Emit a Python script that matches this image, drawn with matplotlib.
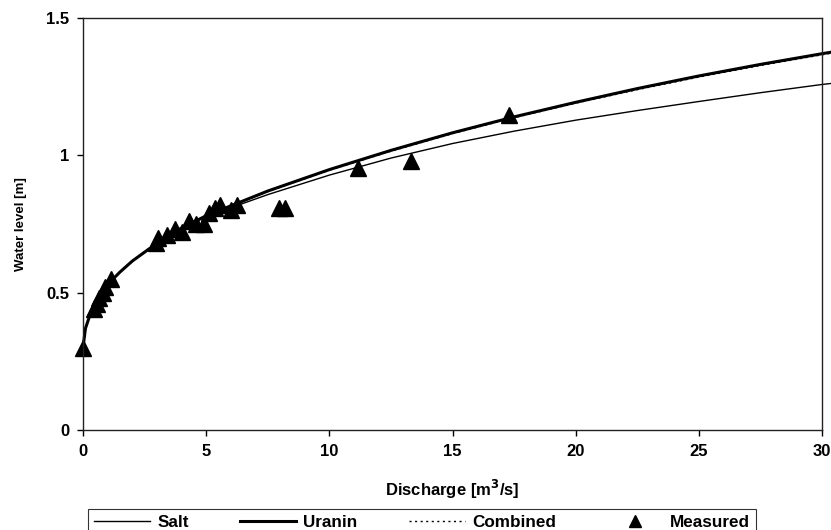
import matplotlib
matplotlib.use("Agg")
import matplotlib.pyplot as plt

plt.rcParams['font.family'] = ['Liberation Sans', 'DejaVu Sans']
plt.rcParams['font.weight'] = 'bold'

# rating curves
q_curve = [0, 0.1, 0.25, 0.5, 1, 1.5, 2, 3, 4, 5, 7.5, 10, 12.5, 15, 17.5, 20, 22.5, 25, 27.5, 30, 30.4]
h_salt = [0.30, 0.37, 0.41, 0.47, 0.53, 0.575, 0.615, 0.68, 0.733, 0.777, 0.857, 0.928, 0.99,
          1.043, 1.088, 1.128, 1.163, 1.196, 1.228, 1.258, 1.262]
h_uranin = [0.30, 0.37, 0.41, 0.47, 0.53, 0.575, 0.615, 0.68, 0.735, 0.78, 0.87, 0.948, 1.018,
            1.082, 1.14, 1.193, 1.243, 1.289, 1.331, 1.37, 1.376]
h_combined = [0.30, 0.37, 0.41, 0.47, 0.53, 0.575, 0.615, 0.68, 0.735, 0.78, 0.868, 0.946, 1.015,
              1.079, 1.137, 1.19, 1.239, 1.285, 1.327, 1.366, 1.372]

# measured points
q_meas = [0.0, 0.45, 0.55, 0.65, 0.8, 0.9, 1.15, 2.95, 3.05, 3.4, 3.75, 4.0, 4.3, 4.6, 4.9,
          5.1, 5.35, 5.55, 6.0, 6.25, 7.95, 8.2, 11.15, 13.3, 17.3]
h_meas = [0.30, 0.44, 0.46, 0.48, 0.50, 0.52, 0.55, 0.68, 0.70, 0.71, 0.73, 0.72, 0.76, 0.75, 0.75,
          0.79, 0.81, 0.82, 0.80, 0.82, 0.81, 0.81, 0.955, 0.98, 1.147]

x_ticks = [0, 5, 10, 15, 20, 25, 30]
y_ticks = [0, 0.5, 1, 1.5]
y_labels = ['0', '0.5', '1', '1.5']

fig = plt.figure(figsize=(8.31, 5.30), dpi=100)
ax = fig.add_axes([83/831, 100/530, (822-83)/831, (430-18)/530])

ax.plot(q_curve, h_salt, color='black', lw=1.0, label='Salt', clip_on=False)
ax.plot(q_curve, h_uranin, color='black', lw=2.2, label='Uranin', clip_on=False)
ax.plot(q_curve, h_combined, color='black', lw=1.0, ls=(0, (1.5, 2.5)), label='Combined', clip_on=False)
ax.plot(q_meas, h_meas, ls='none', marker='^', ms=11, color='black', label='Measured', clip_on=False)

ax.set_xlim(0, 30)
ax.set_ylim(0, 1.5)
ax.set_xticks(x_ticks)
ax.set_yticks(y_ticks)
ax.set_yticklabels(y_labels)
ax.tick_params(direction='out', length=4, width=1, labelsize=12, pad=6)
for s in ax.spines.values():
    s.set_linewidth(1.0)
    s.set_color('#222222')

ax.set_xlabel('Discharge [m$^3$/s]', fontsize=12, fontweight='bold', labelpad=14)
ax.set_ylabel('Water level [m]', fontsize=9.5, fontweight='bold', labelpad=14)

leg = fig.legend(loc='upper left', bbox_to_anchor=(88/831, 1 - 509/530), ncol=4,
                 fontsize=12.3, frameon=True, fancybox=False, edgecolor='black',
                 handlelength=3.3, columnspacing=3.0, handletextpad=0.4, borderpad=0.35,
                 borderaxespad=0, markerscale=0.85)
leg.get_frame().set_linewidth(0.8)
for t in leg.get_texts():
    t.set_fontweight('bold')

fig.savefig('out.png', dpi=100)
